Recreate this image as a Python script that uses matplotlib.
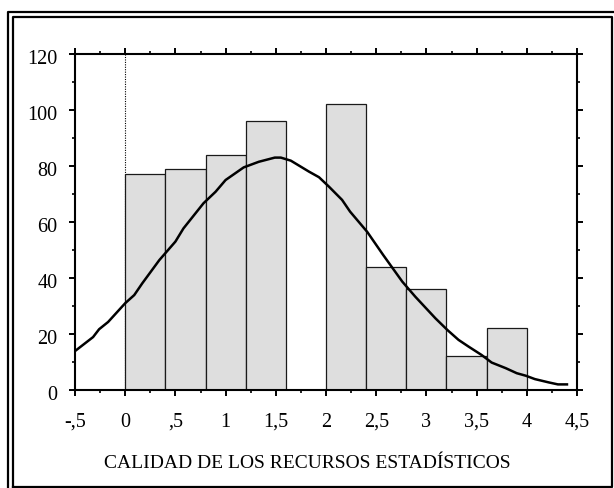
"""
Histogram of CALIDAD DE LOS RECURSOS ESTADISTICOS with a fitted curve.
"""

# Imports
import matplotlib
matplotlib.use("Agg")
import matplotlib.pyplot as plt
import matplotlib.transforms as mtransforms
from matplotlib.lines import Line2D
from matplotlib.ticker import FixedLocator, MultipleLocator


# Histogram bins (left edges, width 0.4) and counts
bin_left = [0.0, 0.4, 0.8, 1.2, 1.6, 2.0, 2.4, 2.8, 3.2, 3.6]
bin_width = 0.4
counts = [77, 79, 84, 96, 0, 102, 44, 36, 12, 22]

# Fitted curve
curve_x = [-0.5, -0.32, -0.26, -0.17, 0.0, 0.09, 0.17, 0.34, 0.5, 0.58,
           0.78, 0.9, 1.0, 1.18, 1.33, 1.49, 1.55, 1.65, 1.83, 1.93,
           2.03, 2.16, 2.24, 2.41, 2.57, 2.76, 2.89, 3.09, 3.21, 3.32,
           3.42, 3.55, 3.65, 3.79, 3.9, 3.99, 4.08, 4.22, 4.31, 4.4]
curve_y = [13.9, 18.9, 21.7, 24.3, 31.0, 33.9, 38.1, 46.4, 53.0, 57.7,
           66.7, 70.8, 75.0, 79.5, 81.5, 83.0, 83.0, 81.9, 78.0, 76.0,
           72.6, 67.9, 63.7, 56.5, 48.2, 38.7, 33.3, 25.6, 21.4, 17.9,
           15.5, 12.5, 9.8, 7.8, 6.0, 5.1, 3.9, 2.7, 2.0, 2.0]

# Axis ticks
x_ticks = [-0.5, 0, 0.5, 1, 1.5, 2, 2.5, 3, 3.5, 4, 4.5]
x_tick_labels = ["-,5", "0", ",5", "1", "1,5", "2", "2,5", "3", "3,5", "4", "4,5"]
y_ticks = [0, 20, 40, 60, 80, 100, 120]
x_label = "CALIDAD DE LOS RECURSOS ESTADÍSTICOS"

plt.rcParams["font.family"] = ["Liberation Serif", "DejaVu Serif"]

W, H = 614, 488
fig = plt.figure(figsize=(W / 100, H / 100), dpi=100)
ax = fig.add_axes([75 / W, 1 - 390 / H, (577 - 75) / W, (390 - 54) / H])

# Bars
ax.bar(bin_left, counts, width=bin_width, align="edge",
       color="#dedede", edgecolor="#1a1a1a", linewidth=0.9, zorder=2)

# Curve
ax.plot(curve_x, curve_y, color="black", lw=1.8, zorder=3)

# Dotted line at zero
ax.axvline(0, color="black", lw=0.8, linestyle=(0, (1, 1.2)), zorder=1)

ax.set_xlim(-0.5, 4.5)
ax.set_ylim(0, 120)

ax.xaxis.set_major_locator(FixedLocator(x_ticks))
ax.set_xticklabels(x_tick_labels)
ax.xaxis.set_minor_locator(MultipleLocator(0.25))
ax.yaxis.set_major_locator(FixedLocator(y_ticks))
ax.yaxis.set_minor_locator(MultipleLocator(10))

ax.tick_params(which="both", direction="out", top=True, right=True,
               bottom=True, left=True, color="black")
ax.tick_params(which="major", length=4.5, width=1.4)
ax.tick_params(which="minor", length=2.2, width=1.2)
ax.tick_params(axis="x", which="major", labelsize=14.5, pad=12)
ax.tick_params(axis="y", which="major", labelsize=14.5, pad=8)

# y labels sit a little below their ticks in the original
shift = mtransforms.ScaledTranslation(0, -3 / 100, fig.dpi_scale_trans)
for lab in ax.get_yticklabels():
    lab.set_transform(lab.get_transform() + shift)

for s in ax.spines.values():
    s.set_linewidth(1.5)

fig.text(307 / W, 1 - 463 / H, x_label, ha="center", va="center", fontsize=14)

# Double frame (outer line only on top and left)
def fig_line(xs, ys, lw):
    fig.add_artist(Line2D([x / W for x in xs], [1 - y / H for y in ys],
                          transform=fig.transFigure, color="black", lw=lw,
                          solid_capstyle="projecting"))

fig_line([7.5, 7.5, 614], [488, 11.5, 11.5], 1.6)
fig_line([12.5, 12.5, 611.5, 611.5, 12.5], [486.5, 16.5, 16.5, 486.5, 486.5], 1.6)

fig.savefig("out.png", dpi=100)
